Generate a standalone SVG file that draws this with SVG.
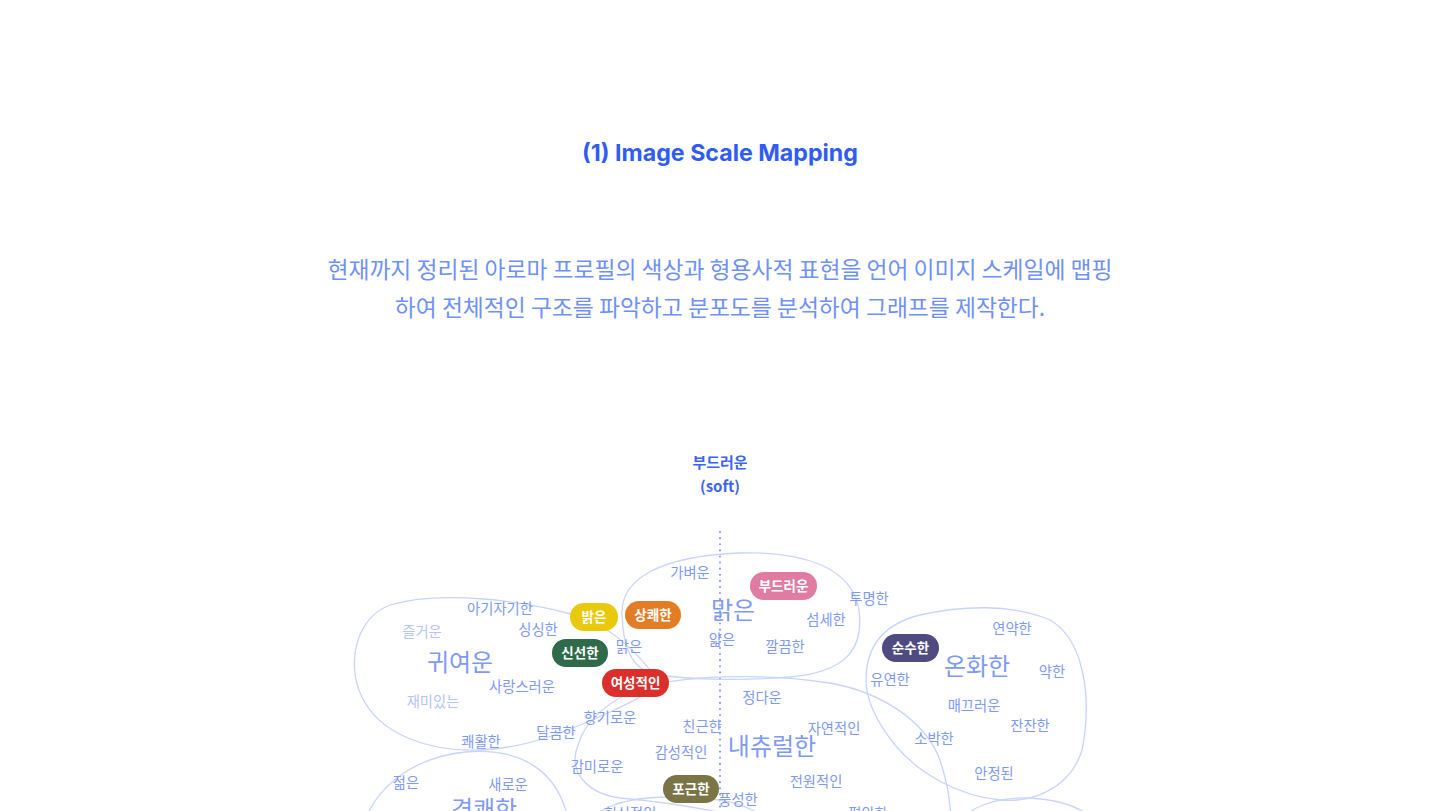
<svg xmlns="http://www.w3.org/2000/svg" width="1440" height="811" viewBox="0 0 1440 811">
<style>
.kr{font-family:"Noto Sans CJK KR","Noto Sans",sans-serif}
.lb{font-family:"Noto Sans CJK KR",sans-serif;font-size:14.3px;fill:#7e99f7;text-anchor:middle}
.lt{fill:#b5c4fb}
.big{font-size:24px}
.blob{fill:none;stroke:#c9d4fc;stroke-width:1.3}
.pill text{font-family:"Noto Sans CJK KR",sans-serif;font-size:13.5px;font-weight:700;fill:#fff;text-anchor:middle}
</style>
<rect width="1440" height="811" fill="#fff"/>
<text id="title" x="720" y="161" font-family="Inter,'Liberation Sans',sans-serif" font-size="23.2" font-weight="700" fill="#2f5cf5" text-anchor="middle">(1) Image Scale Mapping</text>
<g id="intro" class="kr" font-size="22.8" fill="#6f90f8" text-anchor="middle">
<text x="720" y="278">현재까지 정리된 아로마 프로필의 색상과 형용사적 표현을 언어 이미지 스케일에 맵핑</text>
<text x="720" y="316">하여 전체적인 구조를 파악하고 분포도를 분석하여 그래프를 제작한다.</text>
</g>
<g id="axis-label" class="kr" font-size="15" font-weight="700" fill="#3b63f5" text-anchor="middle">
<text x="720" y="468">부드러운</text>
<text x="720" y="492">(soft)</text>
</g>
<g id="connectors">
<line x1="720" y1="532" x2="720" y2="811" stroke="#7e99f7" stroke-width="2" stroke-linecap="round" stroke-dasharray="0.1 6"/>
<path class="blob" d="M660,683 C640,655 612,626 575,615 C520,600 440,590 390,605 C355,618 346,665 362,697 C380,735 430,752 480,750 C530,748 570,730 610,712 C630,703 650,693 660,683 Z"/>
<path class="blob" d="M622,615 C620,578 662,556 740,553 C800,551 852,566 859,610 C864,650 845,672 790,677 C740,681 680,680 650,673 C628,665 623,640 622,615 Z"/>
<path class="blob" d="M866,680 C866,650 880,625 920,615 C960,606 1010,603 1050,620 C1085,640 1092,700 1082,750 C1070,790 1030,803 1000,800 C960,796 920,775 895,745 C875,720 866,700 866,680 Z"/>
<path class="blob" d="M640,688 C680,676 760,672 830,683 C880,692 925,720 940,760 C948,785 950,800 952,830 L800,830 C740,815 680,803 620,798 C585,793 568,770 578,745 C585,720 610,700 640,688 Z"/>
<path class="blob" d="M585,830 C592,808 625,797 670,797 C720,797 758,803 775,830"/>
<path class="blob" d="M362,830 C372,790 410,758 465,752 C520,747 562,770 570,830"/>
<path class="blob" d="M955,830 C965,805 1000,797 1030,798 C1060,800 1090,808 1100,830"/>
</g>
<g id="labels">
<text class="lb" x="690" y="578">가벼운</text>
<text class="lb" x="869" y="604">투명한</text>
<text class="lb" x="500" y="614">아기자기한</text>
<text class="lb lt" x="422" y="637">즐거운</text>
<text class="lb" x="538" y="635">싱싱한</text>
<text class="lb big" x="733" y="619">맑은</text>
<text class="lb" x="826" y="625">섬세한</text>
<text class="lb" x="629" y="652">맑은</text>
<text class="lb" x="722" y="645">얇은</text>
<text class="lb" x="785" y="652">깔끔한</text>
<text class="lb" x="1012" y="634">연약한</text>
<text class="lb big" x="460" y="671">귀여운</text>
<text class="lb big" x="977" y="675">온화한</text>
<text class="lb" x="1052" y="677">약한</text>
<text class="lb" x="890" y="685">유연한</text>
<text class="lb" x="522" y="692">사랑스러운</text>
<text class="lb lt" x="433" y="707">재미있는</text>
<text class="lb" x="762" y="703">정다운</text>
<text class="lb" x="974" y="711">매끄러운</text>
<text class="lb" x="610" y="723">향기로운</text>
<text class="lb" x="702" y="732">친근한</text>
<text class="lb" x="834" y="734">자연적인</text>
<text class="lb" x="1030" y="731">잔잔한</text>
<text class="lb" x="556" y="738">달콤한</text>
<text class="lb" x="481" y="747">쾌활한</text>
<text class="lb" x="934" y="744">소박한</text>
<text class="lb big" x="772" y="755">내츄럴한</text>
<text class="lb" x="681" y="758">감성적인</text>
<text class="lb" x="597" y="772">감미로운</text>
<text class="lb" x="994" y="779">안정된</text>
<text class="lb" x="816" y="787">전원적인</text>
<text class="lb" x="406" y="788">젊은</text>
<text class="lb" x="508" y="790">새로운</text>
<text class="lb" x="738" y="805">풍성한</text>
<text class="lb big" x="484" y="818">경쾌한</text>
<text class="lb" x="630" y="819">헌신적인</text>
<text class="lb" x="868" y="819">평안한</text>
</g>
<g id="pill-bright" class="pill"><rect x="570" y="603" width="48" height="28" rx="14" fill="#e8c90c"/><text x="594" y="622">밝은</text></g>
<g id="pill-fresh" class="pill"><rect x="625" y="601" width="56" height="28" rx="14" fill="#e27c25"/><text x="653" y="620">상쾌한</text></g>
<g id="pill-new" class="pill"><rect x="552" y="639" width="56" height="28" rx="14" fill="#2f6a4b"/><text x="580" y="658">신선한</text></g>
<g id="pill-feminine" class="pill"><rect x="602" y="669" width="67" height="28" rx="14" fill="#da2f2a"/><text x="635.5" y="688">여성적인</text></g>
<g id="pill-soft" class="pill"><rect x="750" y="572" width="67" height="28" rx="14" fill="#e07ba2"/><text x="783.5" y="591">부드러운</text></g>
<g id="pill-pure" class="pill"><rect x="882" y="634" width="57" height="28" rx="14" fill="#4f4a80"/><text x="910.5" y="653">순수한</text></g>
<g id="pill-cozy" class="pill"><rect x="663" y="775" width="56" height="28" rx="14" fill="#7a7447"/><text x="691" y="794">포근한</text></g>
</svg>
